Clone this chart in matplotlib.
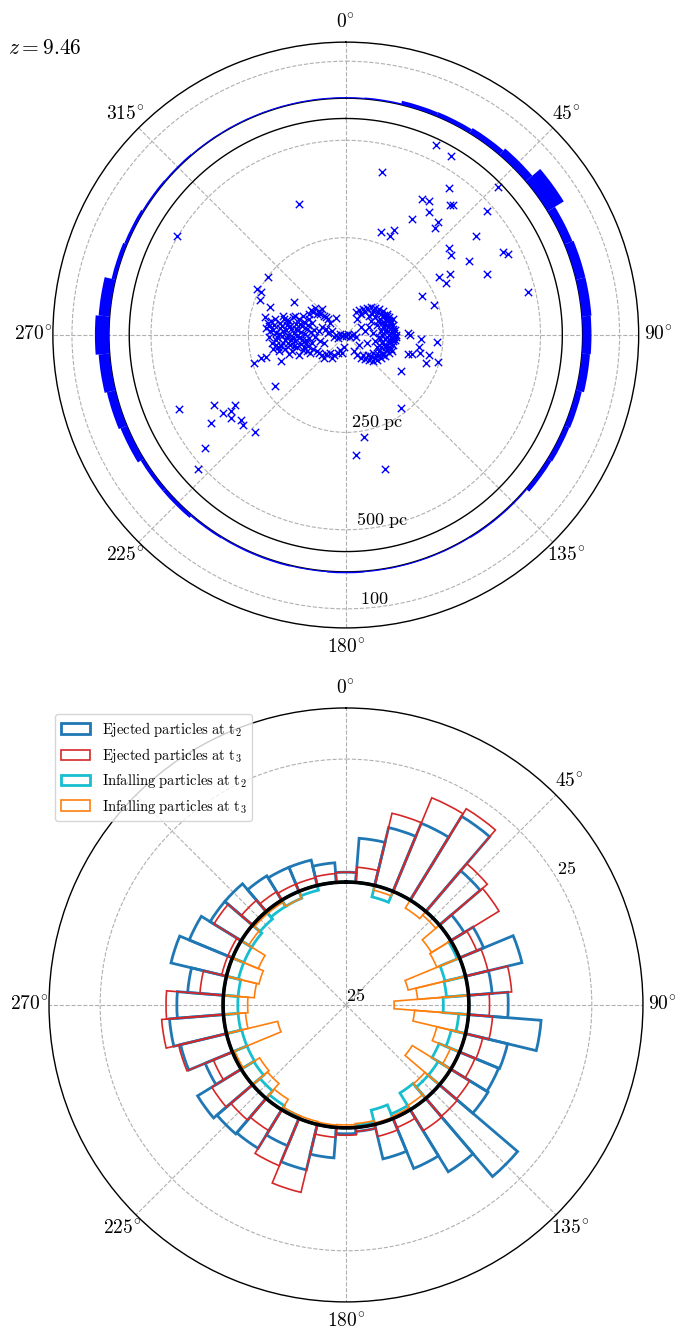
import numpy as np
import matplotlib
matplotlib.use("Agg")
import matplotlib.pyplot as plt

plt.rcParams["mathtext.fontset"] = "cm"
plt.rcParams["font.family"] = "serif"
plt.rcParams["font.serif"] = ["DejaVu Serif"]

# ---------------- data ----------------
# top panel: projected particle positions in pc (x right, y up)
outer_pts = [
    (231, 487), (269, 460), (92, 418), (266, 377), (195, 349), (214, 345), (267, 333), (274, 333),
    (214, 315), (391, 379), (362, 319), (170, 297), (236, 291), (229, 274), (90, 264), (113, 253),
    (124, 270), (334, 255), (265, 223), (270, 206), (404, 213), (417, 207), (317, 190), (362, 156),
    (239, 150), (267, 156), (257, 133), (469, 110), (196, 99), (227, 78), (160, 4), (165, 0),
    (193, -11), (235, -17), (188, -30), (160, -49), (169, -49), (190, -47), (214, -52), (205, -73),
    (236, -69), (143, -92), (141, -188), (46, -263), (27, -308), (101, -343),
    (-120, 336), (-433, 254), (-200, 148), (-227, 118), (-217, 110), (-221, 90), (-133, 86),
    (-195, 71), (-208, 45), (-26, 44), (-236, -73), (-217, -60), (-204, -57), (-167, -66),
    (-182, -131), (-427, -190), (-338, -180), (-314, -201), (-285, -180), (-294, -194),
    (-345, -225), (-294, -214), (-268, -218), (-264, -230), (-232, -248), (-362, -289), (-380, -344),
]
left_clump = [
    (-200, 30), (-195, 10), (-198, -5), (-190, -20), (-185, 25), (-182, 40), (-180, 5), (-178, -12),
    (-175, -30), (-170, 18), (-168, 32), (-165, -2), (-162, -20), (-160, 10), (-158, 42), (-155, -35),
    (-152, 25), (-150, -8), (-148, 0), (-145, 35), (-142, -25), (-140, 15), (-138, -40), (-135, 45),
    (-132, 5), (-130, -15), (-128, 28), (-125, -30), (-122, 12), (-120, 40), (-118, -5), (-115, -22),
    (-112, 22), (-110, -38), (-108, 33), (-105, 2), (-102, -12), (-100, 15), (-98, -28), (-95, 40),
    (-92, -45), (-90, 8), (-188, -35), (-172, -42), (-145, -48), (-120, -50), (-100, -42), (-205, 18),
    (-192, 35), (-176, -5), (-154, 14), (-136, -5), (-126, -2), (-116, 8), (-106, -30), (-96, 25),
    (-88, -20), (-86, 30), (-84, -35), (-166, -28), (-150, 38), (-140, -12), (-110, 48), (-130, 50),
    (-160, 48), (-186, 12), (-172, 2), (-157, -12), (-144, 22), (-133, -28), (-118, 28), (-103, -20),
    (-196, 22), (-180, -25), (-164, 22), (-148, -20), (-127, 16), (-112, -12), (-94, -8), (-82, 12),
    (-90, 65), (-80, 70), (-70, 62), (-65, 55), (-55, 50), (-50, 45), (-75, 55), (-85, 58),
    (-60, 68), (-45, 40), (-40, 30), (-95, 55),
    (-75, -40), (-68, -45), (-60, -52), (-50, -48), (-40, -45), (-30, -50), (-20, -45), (-15, -38),
    (-10, -45), (-55, -60), (-35, -60), (-5, -30),
    (-70, 10), (-60, 20), (-50, 15), (-45, 5), (-35, 10), (-30, -5), (-25, 0), (-20, -8),
    (-15, 2), (-10, -3), (-5, 0), (0, -2), (5, 3), (10, -5), (15, 0), (20, 2), (25, -5),
    (-55, -20), (-65, -15), (-80, -5),
]
right_clump = [
    (25, 60), (35, 65), (45, 68), (55, 70), (65, 72), (75, 70), (85, 66), (95, 62), (105, 55),
    (50, 58), (70, 62), (90, 55), (40, 55), (60, 50),
    (110, 45), (115, 35), (120, 25), (122, 15), (125, 5), (124, -5), (122, -15), (120, -25),
    (116, -35), (110, -45), (105, 40), (108, 20), (112, 0), (110, -20), (100, 30), (102, -30),
    (118, 10), (118, -10), (100, 10), (100, -10), (95, 45), (95, -45), (114, 28), (106, -38),
    (100, -55), (90, -60), (80, -64), (70, -66), (60, -65), (50, -62), (40, -58), (30, -52),
    (85, -50), (65, -55), (45, -50), (75, -58),
    (60, 20), (70, 5), (75, -15), (80, 25), (55, -20), (85, -5), (65, 35), (50, 10),
    (30, 40), (20, -40), (35, -25), (40, 20),
    (88, 40), (92, 30), (95, 20), (90, 10), (93, 0), (88, -10), (92, -20), (90, -30), (86, -40),
    (105, 50), (112, 38), (105, 25), (108, 10), (105, -5), (110, -12), (104, -25), (112, -30),
    (128, 0), (126, 12), (127, -12), (130, -5), (98, 52), (82, 58), (78, -52), (96, -52),
    (120, 40), (118, -42), (75, 45), (70, -45), (82, 35), (80, -30), (68, 55), (58, -52),
]

# angular histogram of particles, 40 bins of 9 deg (counts)
bin_deg = np.arange(0, 360, 9)
ring_counts = [3, 4, 11, 12, 16, 23, 51, 23, 26, 26, 24, 22, 16, 14, 12, 4, 4, 3, 3, 3,
               4, 3, 4, 4, 5, 10, 10, 19, 24, 30, 38, 30, 11, 8, 5, 4, 3, 3, 3, 3]

# bottom panel: angular distributions (ejected outward, infalling inward)
ej_t2 = [2.0, 9.0, 12.1, 15.0, 20.0, 10.9, 3.2, 5.3, 11.8, 4.8, 8.0, 14.8, 8.8, 8.6, 8.9,
         20.9, 14.8, 11.0, 7.2, 0.8, 1.2, 6.2, 9.5, 6.0, 9.2, 9.5, 10.4, 6.0, 9.6, 11.0,
         9.4, 7.3, 11.6, 9.5, 7.4, 7.4, 5.8, 5.3, 5.3, 4.0]
ej_t3 = [2.0, 3.1, 15.1, 20.6, 21.8, 12.8, 11.5, 3.8, 4.7, 8.8, 4.2, 4.9, 3.6, 3.4, 4.5,
         4.8, 5.0, 2.0, 2.5, 0.8, 1.5, 2.0, 14.2, 10.4, 5.0, 5.8, 7.0, 4.2, 10.0, 12.6,
         11.6, 4.8, 1.0, 1.0, 6.5, 3.0, 2.0, 1.6, 1.6, 1.8]
in_t2 = [0, 0, -2.4, 0, 0, 0, 0, -0.5, -4.3, -4.5, -5.2, -2.0, -3.0, -4.5, -3.0,
         -3.0, -4.0, -1.0, -3.0, -0.5, 0, 0, 0, -0.5, -1.0, -2.0, -3.0, -3.2, -3.2, -3.0,
         -3.0, -3.0, -2.5, -2.5, -2.5, -2.0, -1.5, -1.5, -1.0, 0]
in_t3 = [0, 0, -1.0, 0, -1.9, -1.0, -4.6, -5.0, -12.0, -10.4, -15.2, -11.0, -6.0, -2.0, -9.2,
         -3.9, -1.0, -0.5, -0.3, -0.8, -0.6, -0.5, -0.6, -0.6, -2.5, -4.0, -4.4, -0.5, -10.7, -4.5,
         -5.0, -6.3, -6.8, -5.7, -1.8, -0.5, -0.5, -1.5, 0, 0]

redshift = 9.46

# ---------------- layout constants ----------------
R_MAX_TOP = 752
INNER_CIRCLE = 556
RING_BASE = 608
PC_PER_COUNT = 0.95
width = np.deg2rad(9)
theta_bins = np.deg2rad(bin_deg)
deg_labels = [r"$%d^{\!\circ}$" % d for d in range(0, 360, 45)]
grid_kw = dict(color="#b0b0b0", linestyle="--", linewidth=0.8)

fig = plt.figure(figsize=(6.78, 13.3), dpi=100)

# ---------------- top panel ----------------
ax = fig.add_axes([0.078, 0.5278, 0.864, 0.4406], projection="polar")
ax.set_theta_zero_location("N")
ax.set_theta_direction(-1)

pts = np.array(outer_pts + left_clump + right_clump, dtype=float)
th = np.arctan2(pts[:, 0], pts[:, 1])
rr = np.hypot(pts[:, 0], pts[:, 1])
ax.scatter(th, rr, marker="x", color="blue", s=28, linewidths=1.0, zorder=3)

circ = np.linspace(0, 2 * np.pi, 400)
ax.plot(circ, np.full_like(circ, INNER_CIRCLE), color="black", lw=1.0, zorder=3)
ax.plot(circ, np.full_like(circ, RING_BASE), color="black", lw=1.0, zorder=3)
ax.bar(theta_bins, np.array(ring_counts) * PC_PER_COUNT, width=width, bottom=RING_BASE,
       color="blue", linewidth=0, zorder=4)

ax.set_ylim(0, R_MAX_TOP)
ax.set_yticks([250, 500, RING_BASE + 100 * PC_PER_COUNT])
ax.set_yticklabels([r"$250\ \mathrm{pc}$", r"$500\ \mathrm{pc}$", r"$100$"], fontsize=13)
ax.set_rlabel_position(177)
ax.set_thetagrids(range(0, 360, 45), labels=deg_labels, fontsize=14)
ax.grid(True, **grid_kw)
ax.spines["polar"].set_linewidth(1.0)

fig.text(0.012, 0.964, r"$z = %.2f$" % redshift, fontsize=15.5, va="center", ha="left")

# ---------------- bottom panel ----------------
ax2 = fig.add_axes([0.0723, 0.0211, 0.876, 0.4466], projection="polar")
ax2.set_theta_zero_location("N")
ax2.set_theta_direction(-1)

ax2.bar(theta_bins, ej_t2, width=width, bottom=0, fill=False, edgecolor="tab:blue", linewidth=2.0,
        label=r"$\mathrm{Ejected\ particles\ at\ t_2}$", zorder=3)
ax2.bar(theta_bins, ej_t3, width=width, bottom=0, fill=False, edgecolor="tab:red", linewidth=1.2,
        label=r"$\mathrm{Ejected\ particles\ at\ t_3}$", zorder=3)
ax2.bar(theta_bins, in_t2, width=width, bottom=0, fill=False, edgecolor="tab:cyan", linewidth=2.0,
        label=r"$\mathrm{Infalling\ particles\ at\ t_2}$", zorder=3)
ax2.bar(theta_bins, in_t3, width=width, bottom=0, fill=False, edgecolor="tab:orange", linewidth=1.2,
        label=r"$\mathrm{Infalling\ particles\ at\ t_3}$", zorder=3)
ax2.plot(circ, np.zeros_like(circ), color="black", lw=2.6, zorder=4)

ax2.set_ylim(-25, 35.4)
ax2.set_yticks([-25, 0, 25])
ax2.set_yticklabels([r"$25$", "", r"$25$"], fontsize=13)
ax2.set_rlabel_position(59)
# the 315 deg label sits under the legend in the bottom panel
ax2.set_thetagrids(range(0, 360, 45), labels=deg_labels[:-1] + [""], fontsize=14)
ax2.grid(True, **grid_kw)
ax2.spines["polar"].set_linewidth(1.0)
ax2.legend(loc="upper left", fontsize=10.5, borderaxespad=0.4)

fig.savefig("out.png", dpi=100)
